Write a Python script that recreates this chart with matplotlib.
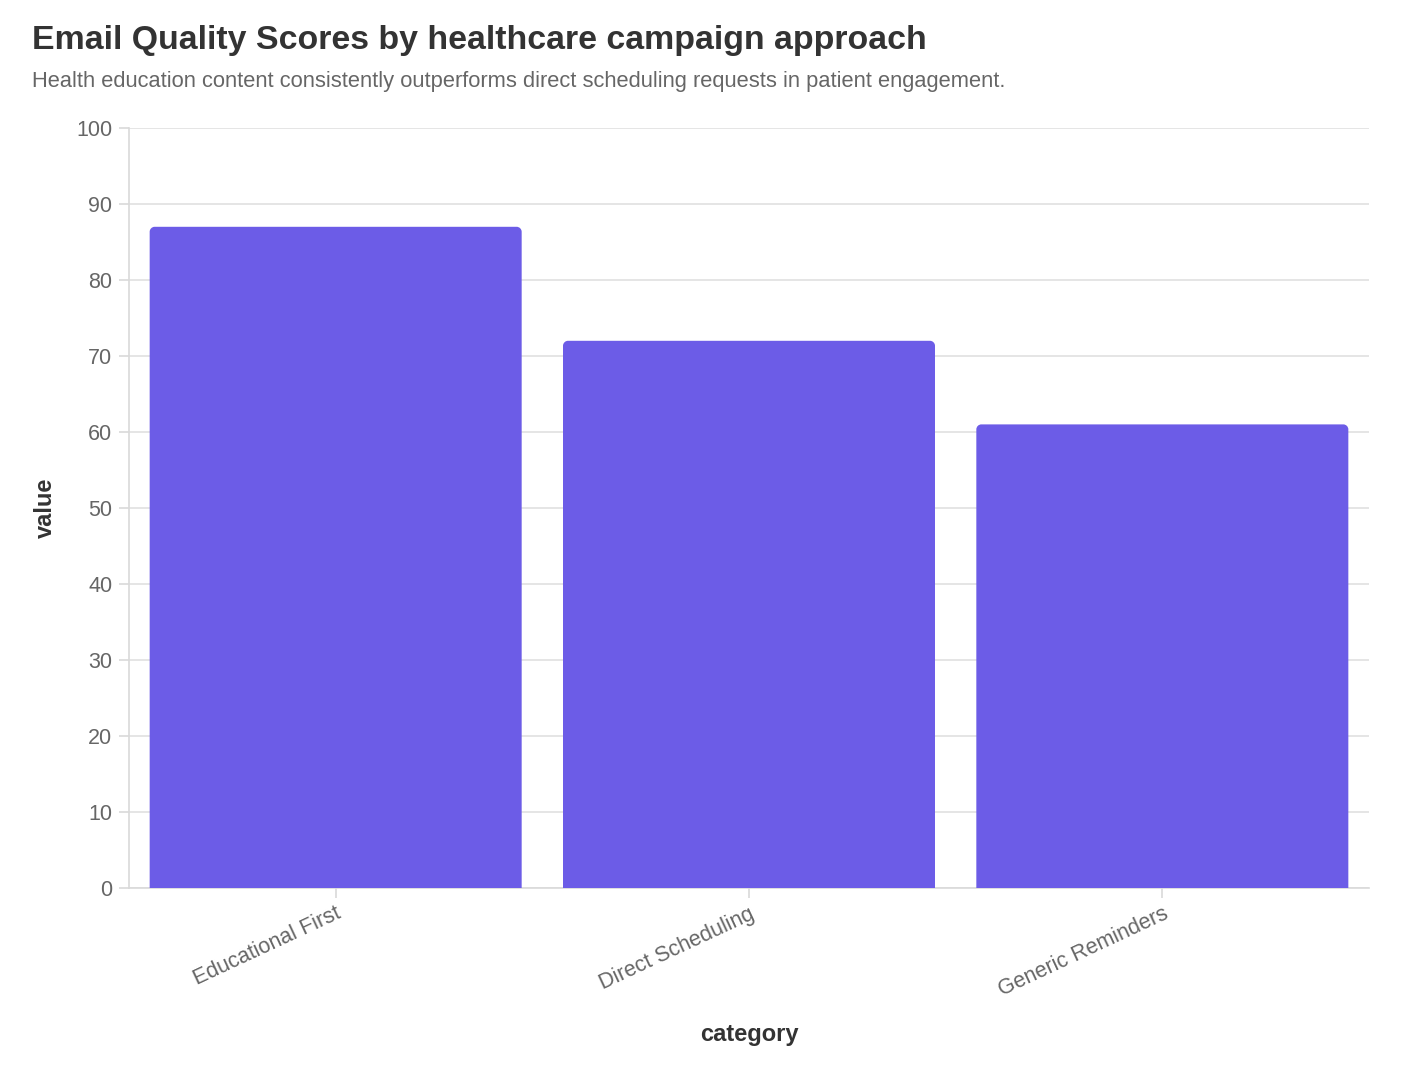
import matplotlib
matplotlib.use("Agg")
import matplotlib.pyplot as plt
from matplotlib.patches import PathPatch
from matplotlib.path import Path

categories = ["Educational First", "Direct Scheduling", "Generic Reminders"]
values = [87, 72, 61]
yticks = [0, 10, 20, 30, 40, 50, 60, 70, 80, 90, 100]

plt.rcParams['font.family'] = ['Liberation Sans', 'DejaVu Sans']

W, H = 1418, 1076
fig = plt.figure(figsize=(W / 100, H / 100), dpi=100)
L, R, T, B = 129, 1369, 128, 888
ax = fig.add_axes([L / W, 1 - B / H, (R - L) / W, (B - T) / H])

bar_color = "#6c5ce7"
x = list(range(len(categories)))
bars = ax.bar(x, values, width=0.9, color=bar_color, zorder=3)
ax.set_xlim(-0.5, len(categories) - 0.5)
ax.set_ylim(0, 100)

ax.set_yticks(yticks)
ax.set_yticklabels([str(t) for t in yticks])
ax.set_xticks(x)
ax.set_xticklabels(categories, rotation=25, ha="right", rotation_mode="anchor")

ax.grid(axis="y", color="#e0e0e0", linewidth=1.2, zorder=0)
ax.grid(axis="x", visible=False)
for s in ["top", "right"]:
    ax.spines[s].set_visible(False)
for s in ["left", "bottom"]:
    ax.spines[s].set_color("#d9d9d9")
    ax.spines[s].set_linewidth(1.2)
ax.tick_params(axis="both", colors="#d9d9d9", length=7, width=1.2,
               labelcolor="#666666", labelsize=15.5)
ax.tick_params(axis="y", pad=5)
ax.tick_params(axis="x", pad=4)

ax.set_ylabel("value", fontsize=17, fontweight="bold", color="#333333")
ax.yaxis.set_label_coords((45 - L) / (R - L), 0.5)
ax.set_xlabel("category", fontsize=17, fontweight="bold", color="#333333")
ax.xaxis.set_label_coords(0.5, -(1034 - B) / (B - T))
ax.xaxis.label.set_va("center")
ax.yaxis.label.set_va("center")

# rounded top corners
fig.canvas.draw()
r = 5
inv = ax.transData.inverted()
for b in bars:
    b.set_visible(False)
    x0, y0 = ax.transData.transform((b.get_x(), 0))
    x1, y1 = ax.transData.transform((b.get_x() + b.get_width(), b.get_height()))
    k = 0.55
    verts = [(x0, y0), (x0, y1 - r), (x0, y1 - r + r * k), (x0 + r - r * k, y1), (x0 + r, y1),
             (x1 - r, y1), (x1 - r + r * k, y1), (x1, y1 - r + r * k), (x1, y1 - r),
             (x1, y0), (x0, y0)]
    codes = [Path.MOVETO, Path.LINETO, Path.CURVE4, Path.CURVE4, Path.CURVE4,
             Path.LINETO, Path.CURVE4, Path.CURVE4, Path.CURVE4, Path.LINETO, Path.CLOSEPOLY]
    dverts = [tuple(inv.transform(v)) for v in verts]
    ax.add_patch(PathPatch(Path(dverts, codes), facecolor=bar_color, edgecolor="none", zorder=3))

fig.text(32 / W, 1 - 40 / H, "Email Quality Scores by healthcare campaign approach",
         fontsize=24.4, fontweight="bold", color="#333333", va="center", ha="left")
fig.text(32 / W, 1 - 81 / H,
         "Health education content consistently outperforms direct scheduling requests in patient engagement.",
         fontsize=15.75, color="#666666", va="center", ha="left")

fig.savefig("out.png", dpi=100, facecolor="white")
